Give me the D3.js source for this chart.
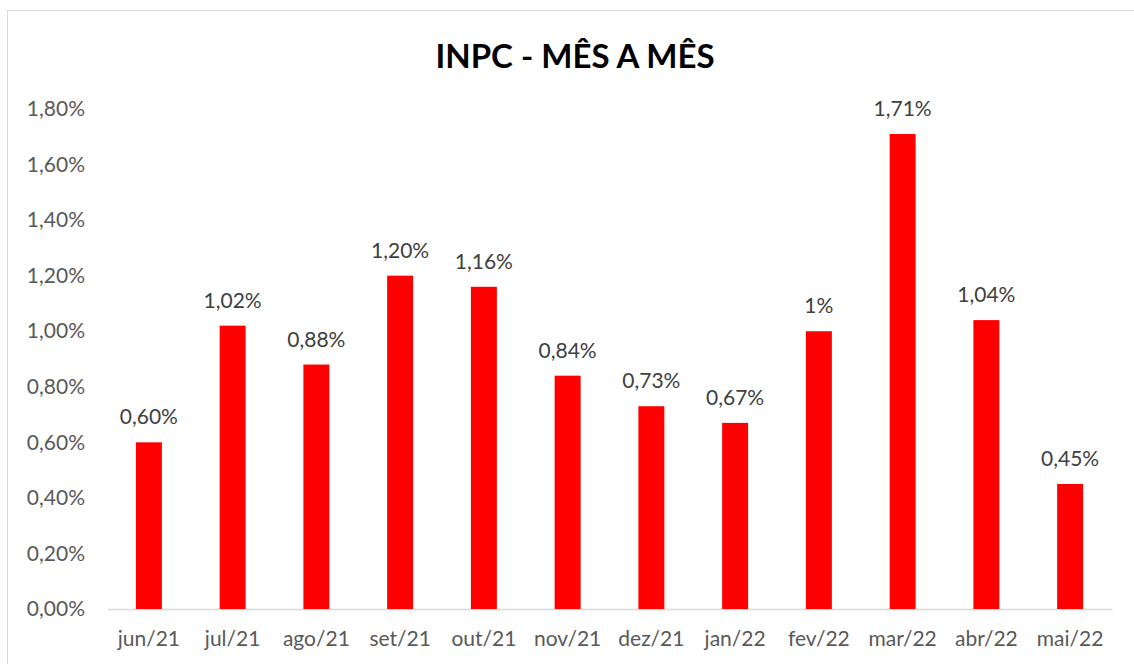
<!DOCTYPE html>
<html lang="pt">
<head>
<meta charset="utf-8">
<title>INPC - MÊS A MÊS</title>
<script src="https://cdn.jsdelivr.net/npm/d3@7"></script>
<style>
  body { margin: 0; background: #fff; }
  svg text { font-family: Lato, "Open Sans", sans-serif; }
</style>
</head>
<body>
<div id="chart"></div>
<script>
// data
var months = ["jun/21", "jul/21", "ago/21", "set/21", "out/21", "nov/21",
              "dez/21", "jan/22", "fev/22", "mar/22", "abr/22", "mai/22"];
var values = [0.60, 1.02, 0.88, 1.20, 1.16, 0.84, 0.73, 0.67, 1.00, 1.71, 1.04, 0.45];
var valueLabels = ["0,60%", "1,02%", "0,88%", "1,20%", "1,16%", "0,84%",
                   "0,73%", "0,67%", "1%", "1,71%", "1,04%", "0,45%"];
var yTicks = [0, 0.2, 0.4, 0.6, 0.8, 1.0, 1.2, 1.4, 1.6, 1.8];

var W = 1134, H = 664;
var margin = {top: 109, right: 22, bottom: 55, left: 107};
var width = W - margin.left - margin.right,
    height = H - margin.top - margin.bottom;

var svg = d3.select("#chart").append("svg")
    .attr("width", W)
    .attr("height", H);

// chart frame
svg.append("rect")
    .attr("x", 7.5).attr("y", 10.5)
    .attr("width", W + 10).attr("height", H + 10)
    .attr("fill", "none")
    .attr("stroke", "#d9d9d9");

svg.append("text")
    .attr("x", 575).attr("y", 68)
    .attr("text-anchor", "middle")
    .style("font-size", "33px")
    .style("font-weight", "bold")
    .attr("fill", "#000")
    .text("INPC - MÊS A MÊS");

var g = svg.append("g")
    .attr("transform", "translate(" + margin.left + "," + margin.top + ")");

var x = d3.scaleBand()
    .domain(months)
    .range([0, width])
    .paddingInner(0.69)
    .paddingOuter(0.345);

var y = d3.scaleLinear()
    .domain([0, 1.8])
    .range([height, 0]);

// y axis (labels only)
var yAxis = g.append("g")
    .call(d3.axisLeft(y).tickValues(yTicks).tickSize(0).tickPadding(22)
      .tickFormat(function(d) { return d3.format(".2f")(d).replace(".", ",") + "%"; }));
yAxis.select(".domain").remove();
yAxis.selectAll("text")
    .style("font-size", "21px")
    .attr("fill", "#595959");

// x axis
var xAxis = g.append("g")
    .attr("transform", "translate(0," + height + ")")
    .call(d3.axisBottom(x).tickSize(0).tickPadding(22));
xAxis.select(".domain").attr("stroke", "#d9d9d9").attr("stroke-width", 1.5);
xAxis.selectAll("text")
    .style("font-size", "21px")
    .attr("fill", "#595959");

// bars
g.selectAll(".bar")
    .data(values)
    .enter()
    .append("rect")
      .attr("class", "bar")
      .attr("x", function(d, i) { return x(months[i]); })
      .attr("y", function(d) { return y(d); })
      .attr("width", x.bandwidth())
      .attr("height", function(d) { return height - y(d); })
      .attr("fill", "#ff0000");

// value labels
g.selectAll(".lbl")
    .data(values)
    .enter()
    .append("text")
      .attr("class", "lbl")
      .attr("x", function(d, i) { return x(months[i]) + x.bandwidth() / 2; })
      .attr("y", function(d) { return y(d) - 18; })
      .attr("text-anchor", "middle")
      .style("font-size", "21px")
      .attr("fill", "#404040")
      .text(function(d, i) { return valueLabels[i]; });
</script>
</body>
</html>
